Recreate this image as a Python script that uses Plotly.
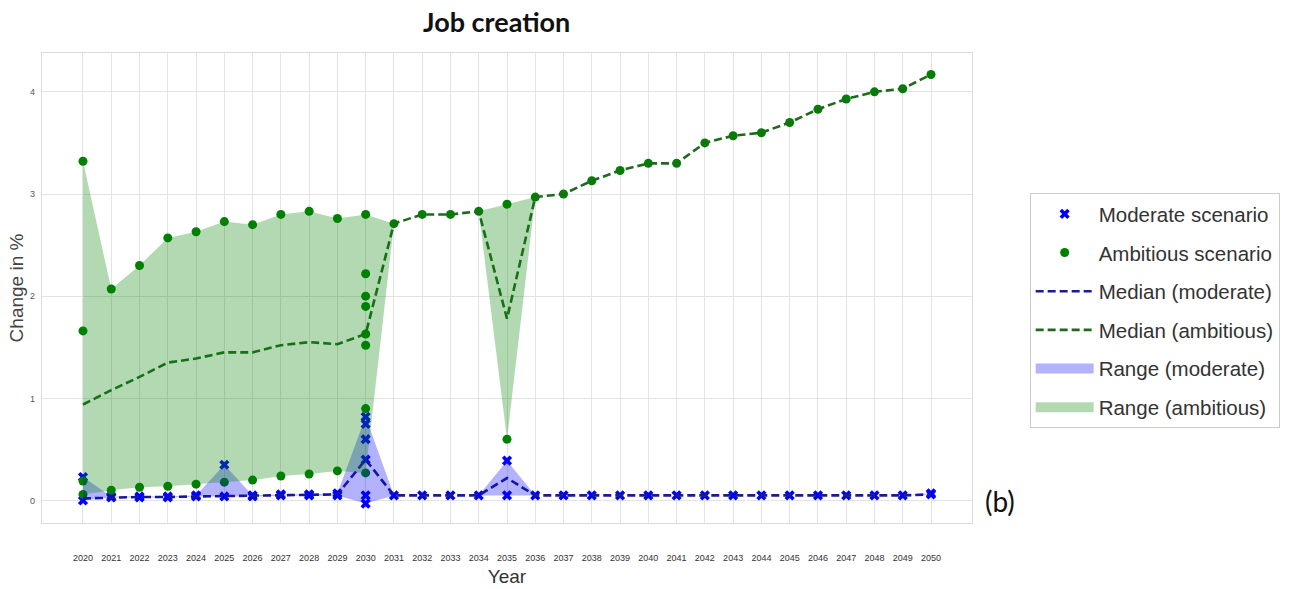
import plotly.graph_objects as go

years = list(range(2020, 2051))

# Ambitious scenario: max, min and median per year
amb_max = [3.32, 2.07, 2.30, 2.57, 2.63, 2.73, 2.70, 2.80, 2.83, 2.76, 2.80,
           2.71, 2.80, 2.80, 2.83, 2.90, 2.97, 3.00, 3.13, 3.23, 3.30,
           3.30, 3.50, 3.57, 3.60, 3.70, 3.83, 3.93, 4.00, 4.03, 4.17]
amb_min = [0.06, 0.10, 0.13, 0.14, 0.16, 0.18, 0.20, 0.24, 0.26, 0.29, 0.27,
           2.71, 2.80, 2.80, 2.83, 0.60, 2.97, 3.00, 3.13, 3.23, 3.30,
           3.30, 3.50, 3.57, 3.60, 3.70, 3.83, 3.93, 4.00, 4.03, 4.17]
amb_med = [0.94, 1.08, 1.21, 1.35, 1.39, 1.45, 1.45, 1.52, 1.55, 1.53, 1.63,
           2.71, 2.80, 2.80, 2.83, 1.78, 2.97, 3.00, 3.13, 3.23, 3.30,
           3.30, 3.50, 3.57, 3.60, 3.70, 3.83, 3.93, 4.00, 4.03, 4.17]
amb_extra_years = [2020, 2020, 2030, 2030, 2030, 2030, 2030, 2030]
amb_extra_vals = [1.66, 0.19, 2.22, 2.00, 1.90, 1.63, 1.52, 0.90]

# Moderate scenario: max, min and median per year
mod_max = [0.23, 0.04, 0.04, 0.04, 0.05, 0.35, 0.05, 0.06, 0.06, 0.07, 0.82,
           0.05, 0.05, 0.05, 0.05, 0.39, 0.05, 0.05, 0.05, 0.05, 0.05,
           0.05, 0.05, 0.05, 0.05, 0.05, 0.05, 0.05, 0.05, 0.05, 0.07]
mod_min = [0.00, 0.03, 0.03, 0.03, 0.04, 0.04, 0.04, 0.05, 0.05, 0.05, -0.03,
           0.05, 0.05, 0.05, 0.05, 0.05, 0.05, 0.05, 0.05, 0.05, 0.05,
           0.05, 0.05, 0.05, 0.05, 0.05, 0.05, 0.05, 0.05, 0.05, 0.06]
mod_med = [0.02, 0.03, 0.035, 0.035, 0.04, 0.045, 0.045, 0.05, 0.055, 0.06, 0.40,
           0.05, 0.05, 0.05, 0.05, 0.22, 0.05, 0.05, 0.05, 0.05, 0.05,
           0.05, 0.05, 0.05, 0.05, 0.05, 0.05, 0.05, 0.05, 0.05, 0.06]
mod_extra_years = [2030, 2030, 2030, 2030]
mod_extra_vals = [0.75, 0.60, 0.40, 0.05]

MOD_FILL = "rgba(0,0,255,0.3)"
AMB_FILL = "rgba(0,128,0,0.3)"


def collect(ymax, ymin, ex_years, ex_vals):
    xs, ys = [], []
    for yr, hi, lo in zip(years, ymax, ymin):
        xs.append(yr); ys.append(hi)
        if lo != hi:
            xs.append(yr); ys.append(lo)
    xs += ex_years
    ys += ex_vals
    return xs, ys


mod_x, mod_y = collect(mod_max, mod_min, mod_extra_years, mod_extra_vals)
amb_x, amb_y = collect(amb_max, amb_min, amb_extra_years, amb_extra_vals)

fig = go.Figure()
fig.add_trace(go.Scatter(x=mod_x, y=mod_y, mode="markers", name="Moderate scenario",
                         legendgroup="a",
                         marker=dict(symbol="x", size=9, color="#0000ff",
                                     line=dict(width=0))))
fig.add_trace(go.Scatter(x=amb_x, y=amb_y, mode="markers", name="Ambitious scenario",
                         legendgroup="b",
                         marker=dict(symbol="circle", size=9, color="#008000")))
fig.add_trace(go.Scatter(x=years, y=mod_med, mode="lines", name="Median (moderate)",
                         legendgroup="c",
                         line=dict(color="#1c1c8a", width=2.6, dash="8px,4px")))
fig.add_trace(go.Scatter(x=years, y=amb_med, mode="lines", name="Median (ambitious)",
                         legendgroup="d",
                         line=dict(color="#1f6a1f", width=2.6, dash="8px,4px")))
fig.add_trace(go.Scatter(x=years + years[::-1], y=mod_max + mod_min[::-1],
                         mode="lines", fill="toself", name="Range (moderate)",
                         legendgroup="e", showlegend=False,
                         fillcolor=MOD_FILL, line=dict(width=0)))
fig.add_trace(go.Scatter(x=years + years[::-1], y=amb_max + amb_min[::-1],
                         mode="lines", fill="toself", name="Range (ambitious)",
                         legendgroup="f", showlegend=False,
                         fillcolor=AMB_FILL, line=dict(width=0)))
# legend swatches for the two ranges
fig.add_trace(go.Scatter(x=[None], y=[None], mode="lines", name="Range (moderate)",
                         legendgroup="e", line=dict(color=MOD_FILL, width=16)))
fig.add_trace(go.Scatter(x=[None], y=[None], mode="lines", name="Range (ambitious)",
                         legendgroup="f", line=dict(color=AMB_FILL, width=16)))

fig.update_layout(
    width=1295, height=589,
    margin=dict(l=42, r=323, t=53, b=66),
    paper_bgcolor="white", plot_bgcolor="white",
    font=dict(family="Liberation Sans, Arial, sans-serif", color="#333333"),
    showlegend=True,
    legend=dict(x=1.062, y=0.702, xanchor="left", yanchor="top",
                font=dict(size=20.5, color="#333333"),
                bordercolor="#cccccc", borderwidth=1, bgcolor="white",
                tracegroupgap=9, itemwidth=58),
    annotations=[
        dict(text="<b>Job creation</b>", x=0.489, y=1.066, xref="paper", yref="paper",
             xanchor="center", yanchor="middle", showarrow=False,
             font=dict(family="Lato, sans-serif", size=27, color="#111111")),
        dict(text="(b)", x=1.012, xref="paper", y=0, yref="y",
             xanchor="left", yanchor="middle", showarrow=False,
             font=dict(family="Lato, sans-serif", size=28, color="#111111")),
    ],
)

fig.update_xaxes(range=[2018.55, 2051.45], tickmode="array", tickvals=years,
                 ticktext=[str(y) for y in years], tickangle=0, automargin=False,
                 tickfont=dict(size=9, color="#333333"), ticklabelstandoff=26,
                 showgrid=True, gridcolor="#e3e3e3", gridwidth=1.3, zeroline=False,
                 showline=True, mirror=True, linecolor="#dcdcdc", linewidth=1.3,
                 title=dict(text="Year", font=dict(size=19, color="#333333"), standoff=7))
fig.update_yaxes(range=[-0.22, 4.38], tickmode="array", tickvals=[0, 1, 2, 3, 4],
                 tickfont=dict(size=9, color="#555555"), ticklabelstandoff=4,
                 automargin=False,
                 showgrid=True, gridcolor="#e3e3e3", gridwidth=1.3, zeroline=False,
                 showline=True, mirror=True, linecolor="#dcdcdc", linewidth=1.3,
                 title=dict(text="Change in %", font=dict(size=19, color="#444444"), standoff=1))

fig.write_html("out.html")
